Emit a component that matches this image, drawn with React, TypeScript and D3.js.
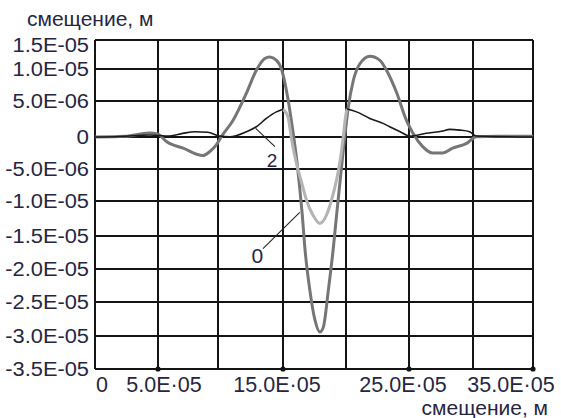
import React from "react";
import * as d3 from "d3";

// x in units of 1e-5 m, y in units of 1e-6 m
const xTickValues = [0, 5, 10, 15, 20, 25, 30, 35];
const xLabelValues = [0, 5, 15, 25, 35];
const xTickLabels = ["0", "5.0E·05", "15.0E·05", "25.0E·05", "35.0E·05"];
const yTickValues = [15, 10, 5, 0, -5, -10, -15, -20, -25, -30, -35];
const yTickLabels = ["1.5E-05", "1.0E-05", "5.0E-06", "0", "-5.0E-06", "-1.0E-05", "-1.5E-05", "-2.0E-05", "-2.5E-05", "-3.0E-05", "-3.5E-05"];

const curve0X = [0, 2.4, 4.3, 5, 5.7, 7.1, 8.75, 9.3, 9.86, 10.26, 11.15, 12.18, 12.95, 13.6, 13.98, 14.5, 14.88, 15.37, 15.77, 16.09, 16.33, 16.53, 16.73, 17.13, 17.53, 17.93, 18.2, 18.6, 19.0, 19.27, 19.54, 19.87, 20.18, 20.58, 21.1, 21.9, 22.69, 23.3, 24.0, 24.8, 25.3, 26.07, 26.85, 27.63, 28.41, 29.5, 30.28, 32, 35];
const curve0Y = [0, 0.1, 0.55, 0.4, -0.7, -1.75, -2.9, -2.3, -1.24, 0.05, 2.3, 6.2, 9.8, 11.8, 12.05, 11.5, 10.0, 5.6, 1.0, -3.6, -8.0, -12.0, -16.7, -23.2, -27.6, -29.4, -28.7, -23.2, -16.7, -11.7, -6.7, -0.5, 4.1, 8.2, 10.9, 12.2, 11.5, 9.5, 6.4, 2.3, 0.55, -1.5, -2.5, -2.5, -1.75, -1.0, 0.05, 0.1, 0.1];

const curve2X = [0, 2, 4.34, 5.98, 7.06, 8.06, 9.14, 10.13, 10.9, 12.18, 12.95, 13.72, 14.49, 15.0, 15.4, 15.69, 16.09, 16.46, 16.86, 17.38, 17.92, 18.45, 18.85, 19.25, 19.6, 19.8, 19.96, 20.08, 20.84, 21.89, 22.94, 23.47, 24.26, 25.05, 26.35, 27.65, 28.18, 28.96, 29.74, 30.27, 35];
const curve2Y = [0, 0.07, 0.28, 0.14, 0.5, 0.73, 0.65, 0.14, 0.04, 0.73, 1.42, 2.58, 3.49, 3.86, 2.75, -0.46, -4.33, -6.97, -9.84, -12.03, -13.2, -12.03, -9.84, -6.7, -2.8, 0.3, 2.75, 3.9, 3.49, 2.58, 1.89, 1.42, 0.76, 0.14, 0.51, 0.83, 1.06, 0.96, 0.73, 0.14, 0];
const curve2LightRange = [15.0, 20.08];

const annotationLabels = ["2", "0"];
const annotationFrom = [[12.9, 1.2], [16.33, -11.63]];
const annotationTo = [[14.38, -1.5], [13.46, -16.9]];
const annotationText = [[14.15, -4.64], [13.03, -19.1]];

// layout
const W = 561;
const H = 418;
const X_PX = [95, 158, 218, 283, 346, 409, 473, 533];
const Y_PX = [40, 69, 101, 137, 169, 201, 236, 269, 302, 336, 369];
const FONT = "'Liberation Sans', Arial, sans-serif";
const TEXT = "#262642";

export default function App() {
  const x = d3.scaleLinear().domain(xTickValues).range(X_PX);
  const y = d3.scaleLinear().domain(yTickValues).range(Y_PX);
  const left = x(0), right = x(35), top = y(15), bottom = y(-35);

  const line = d3
    .line<[number, number]>()
    .x((d) => x(d[0]))
    .y((d) => y(d[1]))
    .curve(d3.curveMonotoneX);

  const c0: [number, number][] = curve0X.map((v, i) => [v, curve0Y[i]]);
  const c2: [number, number][] = curve2X.map((v, i) => [v, curve2Y[i]]);
  const c2Left = c2.filter((d) => d[0] <= curve2LightRange[0]);
  const c2Mid = c2.filter((d) => d[0] >= curve2LightRange[0] && d[0] <= curve2LightRange[1]);
  const c2Right = c2.filter((d) => d[0] >= curve2LightRange[1]);

  return (
    <svg width={W} height={H} style={{ position: "absolute", left: 0, top: 0, background: "#fff" }}>
      <rect x={0} y={0} width={W} height={H} fill="#fff" />
      {/* grid */}
      {xTickValues.map((v) => (
        <line key={"gx" + v} x1={x(v)} x2={x(v)} y1={top} y2={bottom} stroke="#151515" strokeWidth={2} />
      ))}
      {yTickValues.map((v) => (
        <line key={"gy" + v} x1={left} x2={right} y1={y(v)} y2={y(v)} stroke="#151515" strokeWidth={2} />
      ))}
      {/* tick dots */}
      {xLabelValues.filter((v) => v !== 0).map((v) => (
        <circle key={"dot" + v} cx={x(v)} cy={bottom} r={2.6} fill="#111" />
      ))}
      {/* curves */}
      <path d={line(c0) || ""} fill="none" stroke="#767676" strokeWidth={3} strokeLinejoin="round" />
      <path d={line(c2Mid) || ""} fill="none" stroke="#b4b4b4" strokeWidth={3} strokeLinejoin="round" />
      <path d={line(c2Left) || ""} fill="none" stroke="#1a1a1a" strokeWidth={1.6} strokeLinejoin="round" />
      <path d={line(c2Right) || ""} fill="none" stroke="#1a1a1a" strokeWidth={1.6} strokeLinejoin="round" />
      {/* annotations */}
      {annotationLabels.map((lab, i) => (
        <g key={"ann" + i}>
          <line
            x1={x(annotationFrom[i][0])}
            y1={y(annotationFrom[i][1])}
            x2={x(annotationTo[i][0])}
            y2={y(annotationTo[i][1])}
            stroke="#222"
            strokeWidth={1.1}
          />
          <text
            x={x(annotationText[i][0])}
            y={y(annotationText[i][1])}
            textAnchor="middle"
            fontFamily={FONT}
            fontSize={i === 0 ? 19 : 21}
            fill={TEXT}
          >
            {lab}
          </text>
        </g>
      ))}
      {/* y labels */}
      {yTickValues.map((v, i) => (
        <text
          key={"yl" + v}
          transform={`translate(${left - 6},${Math.max(y(v), top + 5)}) scale(1.12,1)`}
          dy="0.35em"
          textAnchor="end"
          fontFamily={FONT}
          fontSize={yTickLabels[i] === "0" ? 20 : 19.5}
          fill={TEXT}
        >
          {yTickLabels[i]}
        </text>
      ))}
      {/* x labels */}
      {xLabelValues.map((v, i) => (
        <text
          key={"xl" + v}
          x={v === 0 ? left + 1 : Math.min(x(v) + (v === 5 ? 6 : -6), W - 6 - 44)}
          y={bottom + 23}
          textAnchor={v === 0 ? "start" : "middle"}
          fontFamily={FONT}
          fontSize={21.5}
          fill={TEXT}
        >
          {xTickLabels[i]}
        </text>
      ))}
      {/* axis titles */}
      <text x={27} y={26} fontFamily={FONT} fontSize={21} fill={TEXT}>
        смещение, м
      </text>
      <text x={548} y={415} textAnchor="end" fontFamily={FONT} fontSize={21} fill={TEXT}>
        смещение, м
      </text>
    </svg>
  );
}
